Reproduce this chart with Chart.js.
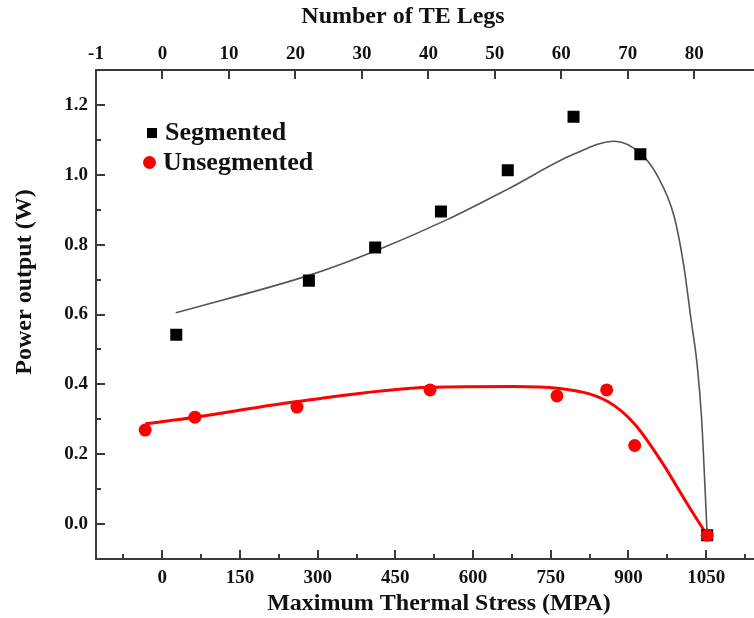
<!DOCTYPE html>
<html>
<head>
<meta charset="utf-8">
<script src="https://cdn.jsdelivr.net/npm/chart.js@4.4.1/dist/chart.umd.min.js"></script>
<style>
  html, body { margin: 0; padding: 0; background: #fff; overflow: hidden; }
  canvas { display: block; }
</style>
</head>
<body>
<canvas id="grafico" width="754" height="618"></canvas>
<script>
// measured points (stress in MPa, power in W)
const segStress = [27, 283, 411, 538, 667, 794, 923, 1052];
const segPower = [0.542, 0.697, 0.792, 0.895, 1.013, 1.166, 1.059, -0.032];
const unsegStress = [-33, 63, 260, 517, 762, 858, 912, 1052];
const unsegPower = [0.269, 0.306, 0.335, 0.384, 0.367, 0.384, 0.225, -0.032];

const segFitStress = [26, 283, 411, 552, 667, 796, 873, 924, 956, 988, 1007, 1020, 1033, 1041, 1046, 1052];
const segFitPower = [0.605, 0.712, 0.782, 0.873, 0.959, 1.06, 1.096, 1.06, 0.997, 0.882, 0.738, 0.595, 0.451, 0.308, 0.163, -0.032];
const unsegFitStress = [-33, 63, 260, 519, 680, 763, 860, 911, 962, 1013, 1052];
const unsegFitPower = [0.287, 0.306, 0.351, 0.392, 0.394, 0.389, 0.351, 0.288, 0.183, 0.059, -0.032];

// axis ticks
const stressTicks = [0, 150, 300, 450, 600, 750, 900, 1050];
const stressMinor = [-75, 75, 225, 375, 525, 675, 825, 975, 1125];
const legTicks = [-10, 0, 10, 20, 30, 40, 50, 60, 70, 80];
const legLabels = ['-1', '0', '10', '20', '30', '40', '50', '60', '70', '80'];
const powerTicks = [0, 0.2, 0.4, 0.6, 0.8, 1.0, 1.2];
const powerMinor = [0.1, 0.3, 0.5, 0.7, 0.9, 1.1];

function pts(xs, ys) {
    return xs.map((x, i) => ({ x: x, y: ys[i] }));
}

const serif = 'Liberation Serif';
const axisColor = '#3a3a3a';
const tickFont = { family: serif, size: 19, weight: 'bold' };

// inward tick marks like the original plot, frame runs to the edge
const tickMarks = {
    id: 'tickMarks',
    afterDraw(chart) {
        const c = chart.ctx;
        const x = chart.scales.x, xTop = chart.scales.xTop, y = chart.scales.y;
        c.save();
        c.strokeStyle = axisColor;
        c.lineWidth = 2;
        c.beginPath();
        c.moveTo(x.right - 1, x.top); c.lineTo(chart.width, x.top);
        c.moveTo(xTop.right - 1, xTop.bottom); c.lineTo(chart.width, xTop.bottom);
        stressTicks.forEach(v => { const p = Math.round(x.getPixelForValue(v)); c.moveTo(p, x.top); c.lineTo(p, x.top - 9); });
        stressMinor.forEach(v => { const p = Math.round(x.getPixelForValue(v)); c.moveTo(p, x.top); c.lineTo(p, x.top - 5); });
        legTicks.forEach(v => { const p = Math.round(xTop.getPixelForValue(v)); c.moveTo(p, xTop.bottom); c.lineTo(p, xTop.bottom + 9); });
        powerTicks.forEach(v => { const p = Math.round(y.getPixelForValue(v)); c.moveTo(y.right, p); c.lineTo(y.right + 9, p); });
        powerMinor.forEach(v => { const p = Math.round(y.getPixelForValue(v)); c.moveTo(y.right, p); c.lineTo(y.right + 5, p); });
        c.stroke();
        c.restore();
    }
};

// axis titles and the legend box
const labels = {
    id: 'labels',
    afterDraw(chart) {
        const c = chart.ctx;
        const a = chart.chartArea;
        c.save();
        c.fillStyle = '#111';
        c.textAlign = 'center';
        c.textBaseline = 'middle';
        c.font = 'bold 24px "' + serif + '"';
        c.fillText('Number of TE Legs', 403, 17);
        c.fillText('Maximum Thermal Stress (MPA)', 439, 604);
        c.translate(25, 282);
        c.rotate(-Math.PI / 2);
        c.fillText('Power output (W)', 0, 0);
        c.restore();

        c.save();
        c.font = 'bold 26px "' + serif + '"';
        c.textBaseline = 'middle';
        c.fillStyle = '#000';
        c.fillRect(a.left + 51, a.top + 58, 10, 10);
        c.fillStyle = '#111';
        c.fillText('Segmented', a.left + 69, a.top + 63);
        c.fillStyle = '#ff0000';
        c.beginPath();
        c.arc(a.left + 53.5, a.top + 92.5, 6.5, 0, Math.PI * 2);
        c.fill();
        c.fillStyle = '#111';
        c.fillText('Unsegmented', a.left + 67, a.top + 93);
        c.restore();
    }
};

const ctx = document.getElementById('grafico').getContext('2d');
const myChart = new Chart(ctx, {
    type: 'scatter',
    data: {
        datasets: [
            {
                label: 'Unsegmented',
                data: pts(unsegStress, unsegPower),
                pointStyle: 'circle',
                pointRadius: 6.5,
                pointHoverRadius: 6.5,
                backgroundColor: '#ff0000',
                borderWidth: 0,
                order: 0
            },
            {
                label: 'Segmented',
                data: pts(segStress, segPower),
                pointStyle: 'rect',
                pointRadius: 8.5,
                pointHoverRadius: 8.5,
                backgroundColor: '#000',
                borderWidth: 0,
                order: 1
            },
            {
                label: 'Unsegmented fit',
                data: pts(unsegFitStress, unsegFitPower),
                showLine: true,
                pointRadius: 0,
                borderColor: '#ff0000',
                borderWidth: 3,
                cubicInterpolationMode: 'monotone',
                order: 2
            },
            {
                label: 'Segmented fit',
                data: pts(segFitStress, segFitPower),
                showLine: true,
                pointRadius: 0,
                borderColor: '#555',
                borderWidth: 1.6,
                cubicInterpolationMode: 'monotone',
                order: 3
            }
        ]
    },
    options: {
        responsive: false,
        animation: false,
        layout: { padding: { left: 0, right: 2, top: 0, bottom: 0 } },
        plugins: {
            legend: { display: false },
            tooltip: { enabled: false }
        },
        scales: {
            x: {
                type: 'linear',
                position: 'bottom',
                min: -128,
                max: 1126,
                afterBuildTicks: s => { s.ticks = stressTicks.map(v => ({ value: v })); },
                afterFit: s => { s.height = 59; s.paddingLeft = 0; s.paddingRight = 0; },
                grid: { display: false, drawTicks: false },
                border: { display: true, color: axisColor, width: 2 },
                ticks: {
                    padding: 8,
                    color: '#111',
                    font: tickFont,
                    callback: v => String(v)
                }
            },
            xTop: {
                type: 'linear',
                position: 'top',
                min: -10,
                max: 87.7,
                afterBuildTicks: s => { s.ticks = legTicks.map(v => ({ value: v })); },
                afterFit: s => { s.height = 70; s.paddingLeft = 0; s.paddingRight = 0; },
                grid: { display: false, drawTicks: false },
                border: { display: true, color: axisColor, width: 2 },
                ticks: {
                    padding: 5,
                    color: '#111',
                    font: tickFont,
                    callback: v => legLabels[legTicks.indexOf(v)]
                }
            },
            y: {
                type: 'linear',
                position: 'left',
                min: -0.1,
                max: 1.3,
                afterBuildTicks: s => { s.ticks = powerTicks.map(v => ({ value: v })); },
                afterFit: s => { s.width = 96; s.paddingTop = 0; s.paddingBottom = 0; },
                grid: { display: false, drawTicks: false },
                border: { display: true, color: axisColor, width: 2 },
                ticks: {
                    padding: 8,
                    color: '#111',
                    font: tickFont,
                    callback: v => v.toFixed(1)
                }
            }
        }
    },
    plugins: [tickMarks, labels]
});
</script>
</body>
</html>
